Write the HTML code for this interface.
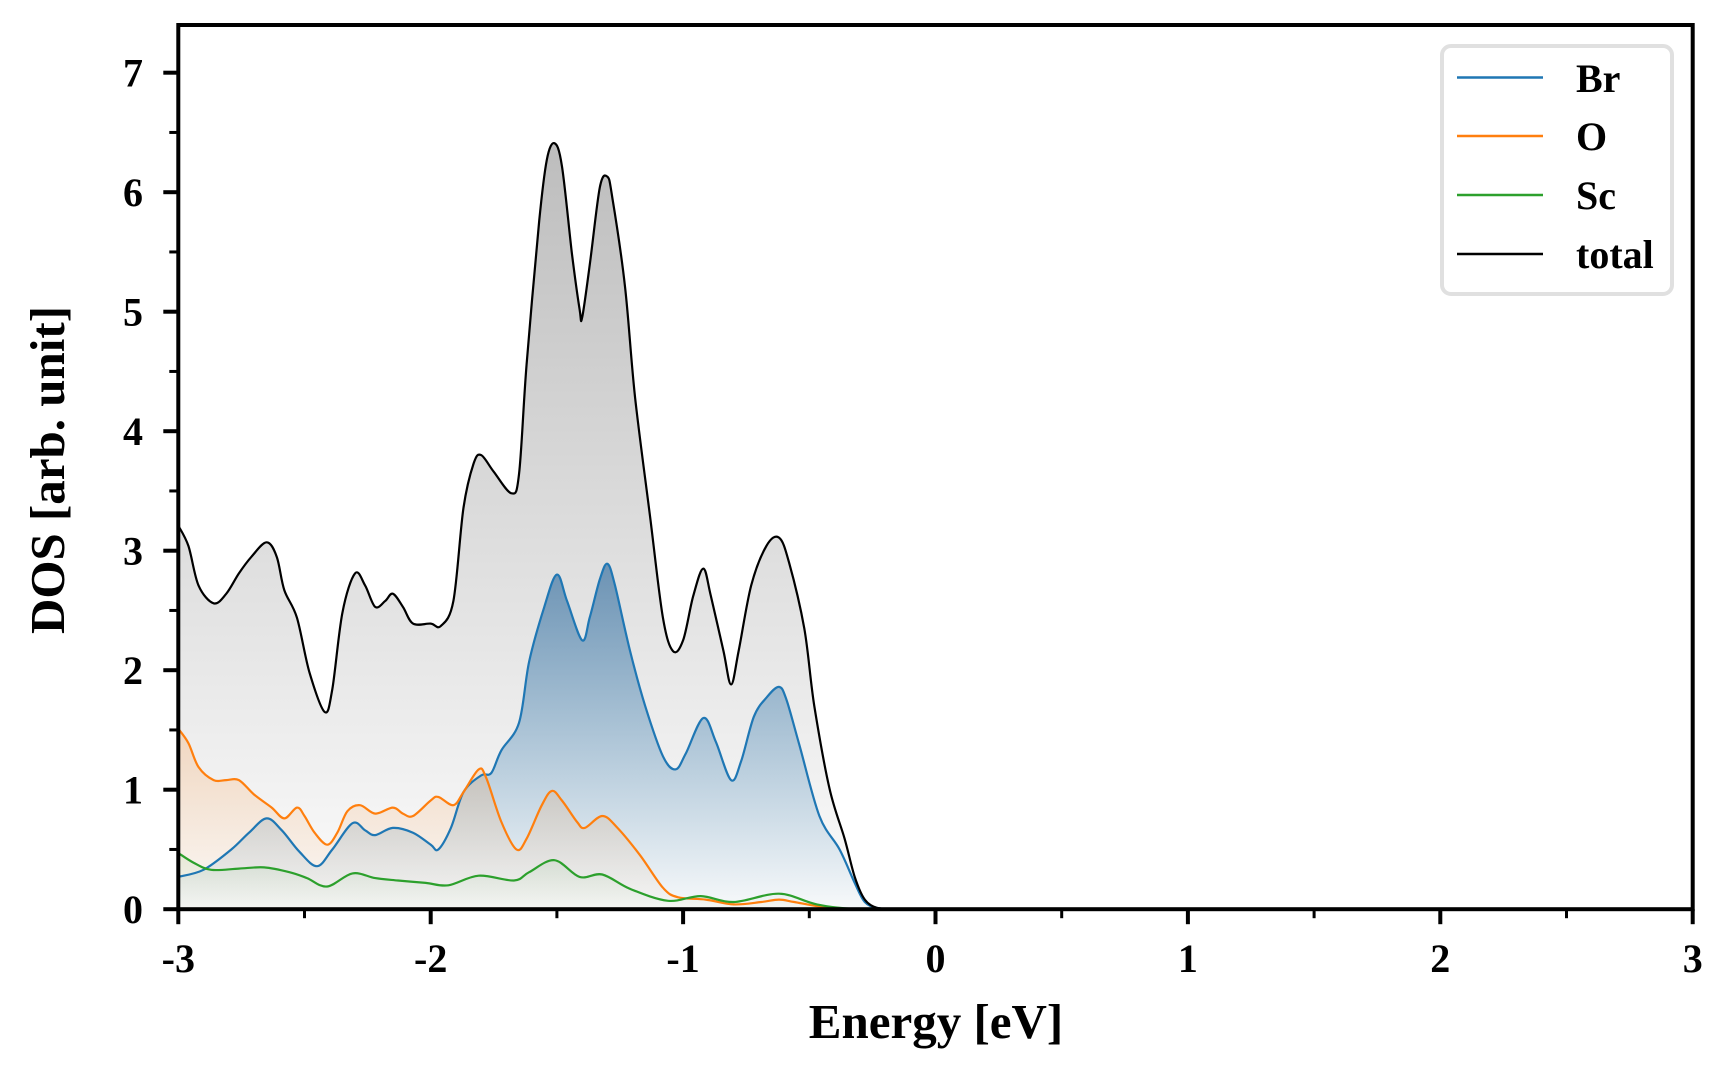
<!DOCTYPE html>
<html><head><meta charset="utf-8"><style>
html,body{margin:0;padding:0;background:#fff;}
svg{display:block;font-family:"Liberation Serif",serif;font-weight:bold;}
</style></head><body>
<svg id="chart" width="1728" height="1080" viewBox="0 0 1728 1080">
<defs>
<linearGradient id="gTot" x1="0" y1="0" x2="0" y2="1"><stop offset="0" stop-color="#bdbdbd"/><stop offset="1" stop-color="#bdbdbd" stop-opacity="0.05"/></linearGradient>
<linearGradient id="gBr" x1="0" y1="0" x2="0" y2="1"><stop offset="0" stop-color="#1f5f96" stop-opacity="0.6"/><stop offset="1" stop-color="#1f77b4" stop-opacity="0.02"/></linearGradient>
<linearGradient id="gO" x1="0" y1="0" x2="0" y2="1"><stop offset="0" stop-color="#ff7f0e" stop-opacity="0.2"/><stop offset="1" stop-color="#ff7f0e" stop-opacity="0.02"/></linearGradient>
<linearGradient id="gSc" x1="0" y1="0" x2="0" y2="1"><stop offset="0" stop-color="#2ca02c" stop-opacity="0.08"/><stop offset="1" stop-color="#2ca02c" stop-opacity="0.01"/></linearGradient>
</defs>
<g id="plot"></g>
<rect x="178.3" y="25" width="1514.4" height="884.2" fill="none" stroke="#000" stroke-width="4"/>
<g id="axes"></g>
<text x="936" y="1038" font-size="49" text-anchor="middle">Energy [eV]</text>
<text transform="translate(64,470) rotate(-90)" font-size="49" text-anchor="middle">DOS [arb. unit]</text>
<g>
<rect x="1442" y="46" width="230" height="248" rx="9" fill="#fff" stroke="#e0e0e0" stroke-width="4"/>
<g><line x1="1457" y1="77.5" x2="1543" y2="77.5" stroke="#1f77b4" stroke-width="2.5"/><text x="1576" y="92" font-size="40">Br</text></g>
<g><line x1="1457" y1="136" x2="1543" y2="136" stroke="#ff7f0e" stroke-width="2.5"/><text x="1576" y="150" font-size="40">O</text></g>
<g><line x1="1457" y1="195" x2="1543" y2="195" stroke="#2ca02c" stroke-width="2.5"/><text x="1576" y="209" font-size="40">Sc</text></g>
<g><line x1="1457" y1="254" x2="1543" y2="254" stroke="#000" stroke-width="2.5"/><text x="1576" y="268" font-size="40">total</text></g>
</g>
</svg>
<script>
const totE=[-3,-2.96,-2.92,-2.86,-2.81,-2.76,-2.71,-2.65,-2.61,-2.58,-2.53,-2.48,-2.42,-2.39,-2.35,-2.30,-2.26,-2.22,-2.18,-2.15,-2.11,-2.07,-2.0,-1.96,-1.91,-1.87,-1.83,-1.80,-1.75,-1.68,-1.65,-1.62,-1.57,-1.54,-1.51,-1.48,-1.44,-1.41,-1.40,-1.37,-1.33,-1.30,-1.28,-1.23,-1.19,-1.13,-1.08,-1.04,-1.00,-0.96,-0.92,-0.89,-0.84,-0.81,-0.78,-0.73,-0.67,-0.62,-0.58,-0.52,-0.48,-0.42,-0.36,-0.32,-0.28,-0.23,-0.17,0,1,2,3];
const totV=[3.21,3.04,2.71,2.56,2.64,2.81,2.95,3.07,2.95,2.67,2.44,1.98,1.65,1.84,2.48,2.81,2.71,2.53,2.58,2.64,2.53,2.39,2.39,2.37,2.58,3.36,3.73,3.80,3.66,3.48,3.64,4.56,5.76,6.27,6.41,6.22,5.48,5.02,4.95,5.39,6.04,6.13,5.95,5.21,4.28,3.27,2.44,2.16,2.25,2.62,2.85,2.62,2.16,1.88,2.16,2.71,3.04,3.11,2.90,2.35,1.70,1.01,0.59,0.27,0.08,0.01,0,0,0,0,0];
const brE=[-3,-2.9,-2.79,-2.72,-2.65,-2.59,-2.52,-2.45,-2.39,-2.31,-2.26,-2.22,-2.15,-2.07,-2.0,-1.97,-1.92,-1.87,-1.80,-1.76,-1.72,-1.65,-1.61,-1.55,-1.50,-1.46,-1.40,-1.37,-1.33,-1.30,-1.27,-1.21,-1.15,-1.08,-1.03,-0.99,-0.92,-0.87,-0.81,-0.77,-0.72,-0.67,-0.62,-0.59,-0.54,-0.46,-0.38,-0.32,-0.28,-0.23,-0.17,0,1,2,3];
const brV=[0.27,0.33,0.50,0.64,0.76,0.66,0.48,0.36,0.50,0.72,0.66,0.62,0.68,0.64,0.54,0.50,0.68,0.98,1.12,1.14,1.33,1.56,2.07,2.53,2.80,2.58,2.25,2.44,2.76,2.89,2.71,2.16,1.70,1.28,1.17,1.30,1.60,1.40,1.08,1.24,1.61,1.77,1.86,1.75,1.38,0.78,0.50,0.22,0.06,0.01,0,0,0,0,0];
const oE=[-3,-2.96,-2.92,-2.86,-2.81,-2.76,-2.70,-2.63,-2.58,-2.53,-2.50,-2.46,-2.41,-2.37,-2.33,-2.28,-2.22,-2.15,-2.11,-2.07,-2.0,-1.97,-1.91,-1.87,-1.81,-1.78,-1.72,-1.66,-1.62,-1.56,-1.52,-1.48,-1.42,-1.39,-1.32,-1.26,-1.17,-1.08,-1.02,-0.91,-0.80,-0.69,-0.62,-0.56,-0.45,-0.32,0,1,2,3];
const oV=[1.51,1.39,1.19,1.08,1.08,1.08,0.96,0.85,0.76,0.85,0.78,0.64,0.54,0.64,0.82,0.87,0.80,0.85,0.80,0.78,0.91,0.94,0.87,0.98,1.17,1.10,0.73,0.50,0.59,0.87,0.99,0.91,0.73,0.68,0.78,0.68,0.45,0.18,0.10,0.08,0.04,0.06,0.08,0.06,0.02,0,0,0,0,0];
const scE=[-3,-2.94,-2.87,-2.76,-2.66,-2.56,-2.49,-2.41,-2.31,-2.22,-2.13,-2.02,-1.93,-1.81,-1.67,-1.61,-1.51,-1.41,-1.32,-1.21,-1.06,-0.93,-0.80,-0.62,-0.47,-0.30,0,1,2,3];
const scV=[0.47,0.39,0.33,0.34,0.35,0.31,0.26,0.19,0.30,0.26,0.24,0.22,0.20,0.28,0.24,0.31,0.41,0.27,0.29,0.17,0.07,0.11,0.06,0.13,0.04,0,0,0,0,0];
const xTicks=[-3,-2,-1,0,1,2,3];
const xTickLabels=["-3","-2","-1","0","1","2","3"];
const yTicks=[0,1,2,3,4,5,6,7];
const yTickLabels=["0","1","2","3","4","5","6","7"];

const X0=178.3,X1=1692.7,Y0=909.2,YPU=119.5;
function sx(e){return X0+(e+3)/6*(X1-X0);}
function sy(v){return Y0-v*YPU;}
const NS="http://www.w3.org/2000/svg";
function mk(tag,attrs,parent){const el=document.createElementNS(NS,tag);for(const k in attrs)el.setAttribute(k,attrs[k]);parent.appendChild(el);return el;}
function curve(E,V){
  const p=E.map((e,i)=>[sx(e),Math.min(sy(V[i]),Y0)]);
  let d="M"+p[0][0].toFixed(1)+","+p[0][1].toFixed(1);
  for(let i=0;i<p.length-1;i++){
    const a=p[Math.max(i-1,0)],b=p[i],c=p[i+1],n=p[Math.min(i+2,p.length-1)];
    let c1y=b[1]+(c[1]-a[1])/6,c2y=c[1]-(n[1]-b[1])/6;
    c1y=Math.min(c1y,Y0);c2y=Math.min(c2y,Y0);
    const c1x=b[0]+(c[0]-a[0])/6,c2x=c[0]-(n[0]-b[0])/6;
    d+=" C"+c1x.toFixed(1)+","+c1y.toFixed(1)+" "+c2x.toFixed(1)+","+c2y.toFixed(1)+" "+c[0].toFixed(1)+","+c[1].toFixed(1);
  }
  return d;
}
const plot=document.getElementById('plot');
const series=[
 {E:totE,V:totV,c:"#000",g:"url(#gTot)",n:"total"},
 {E:brE,V:brV,c:"#1f77b4",g:"url(#gBr)",n:"br"},
 {E:oE,V:oV,c:"#ff7f0e",g:"url(#gO)",n:"o"},
 {E:scE,V:scV,c:"#2ca02c",g:"url(#gSc)",n:"sc"}];
series.forEach(s=>{
  const d=curve(s.E,s.V);
  const f=mk('path',{d:d+" L"+sx(s.E[s.E.length-1])+","+Y0+" L"+sx(s.E[0])+","+Y0+" Z",fill:s.g,stroke:"none"},plot);
  
  
});
[series[1],series[2],series[3],series[0]].forEach(s=>{
  const l=mk('path',{d:curve(s.E,s.V),fill:"none",stroke:s.c,"stroke-width":2.2},plot);
  
  
});
const axes=document.getElementById('axes');
xTicks.forEach((t,i)=>{
  const x=sx(t);
  const tk=mk('line',{x1:x,y1:Y0,x2:x,y2:Y0+15,stroke:"#000","stroke-width":4},axes);
  
  
  const tx=mk('text',{x:x,y:972,"font-size":40,"text-anchor":"middle"},axes);
  tx.textContent=xTickLabels[i];
  
  
  if(i<xTicks.length-1){
    const mx=sx(t+0.5);
    const m=mk('line',{x1:mx,y1:Y0,x2:mx,y2:Y0+9,stroke:"#000","stroke-width":3},axes);
    
    
  }
});
yTicks.forEach((t,i)=>{
  const y=sy(t);
  const tk=mk('line',{x1:X0-15,y1:y,x2:X0,y2:y,stroke:"#000","stroke-width":4},axes);
  
  
  const tx=mk('text',{x:143,y:y+14,"font-size":40,"text-anchor":"end"},axes);
  tx.textContent=yTickLabels[i];
  
  
  const my=sy(t+0.5);
  if(my>27){
    const m=mk('line',{x1:X0-9,y1:my,x2:X0,y2:my,stroke:"#000","stroke-width":3},axes);
    
    
  }
});
</script>
</body></html>
